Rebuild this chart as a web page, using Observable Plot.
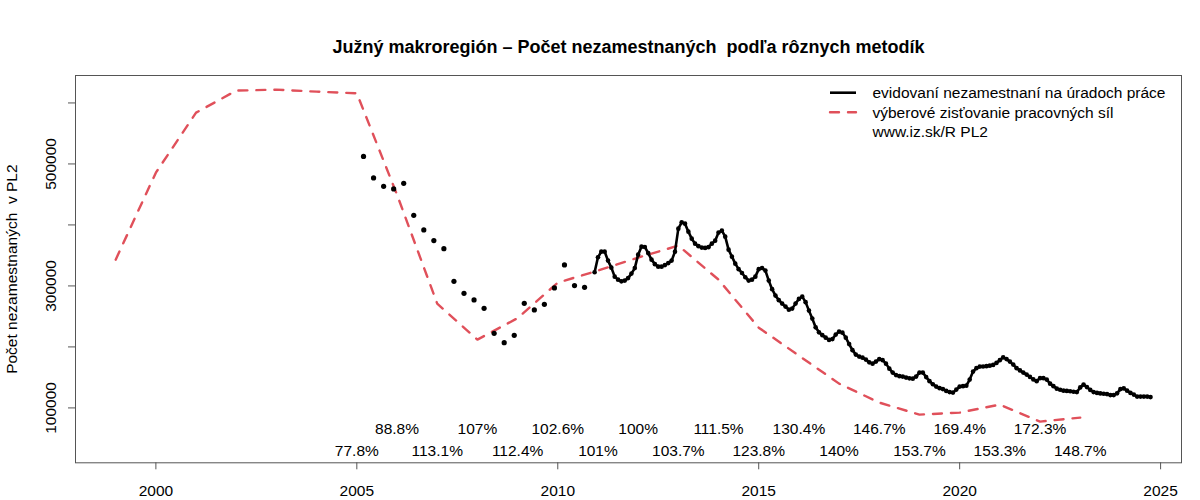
<!DOCTYPE html>
<html>
<head>
<meta charset="utf-8">
<script src="https://cdn.jsdelivr.net/npm/d3@7"></script>
<script src="https://cdn.jsdelivr.net/npm/@observablehq/plot@0.6"></script>
<style>
  html, body { margin: 0; padding: 0; background: #fff; }
  #chart svg { display: block; }
</style>
</head>
<body>
<div id="chart"></div>
<script>
// ---------- data ----------
const titleText = "Južný makroregión – Počet nezamestnaných  podľa rôznych metodík";
const yAxisTitle = "Počet nezamestnaných  v PL2";
const legendLabels = ["evidovaní nezamestnaní na úradoch práce", "výberové zisťovanie pracovných síl", "www.iz.sk/R PL2"];

// Výberové zisťovanie pracovných síl (annual)
const vzpsYears = [1999,2000,2001,2002,2003,2004,2005,2006,2007,2008,2009,2010,2011,2012,2013,2014,2015,2016,2017,2018,2019,2020,2021,2022,2023];
const vzpsValues = [343100,485700,584100,620200,621800,618500,615700,449700,271000,212000,247200,305400,325100,346400,366100,310300,231600,185700,139800,108700,89000,92300,105400,77500,84100];

// Evidovaní nezamestnaní – quarterly (2005 Q1 .. 2010 Q3, months 3,6,9,12)
const quarterlyStartYear = 2005;
const registeredQuarterly = [
  512400,477000,463300,459000,
  468200,415700,391800,374300,
  361100,307500,287900,277000,
  263300,222300,207000,219000,
  271500,260600,269800,296700,
  334400,300500,297700
];

// Evidovaní nezamestnaní – monthly (from 2010-12 to 2024-10)
const monthlyStart = {year: 2010, month: 12};
const registeredMonthly = [
  322300,
  346900,356200,356200,341500,330000,315200,310300,307500,308700,312800,320200,329200, // 2011
  351300,364400,363900,353800,343100,335700,331600,331600,334100,337400,341500,356200, // 2012
  393900,404200,402100,389000,377500,369300,365200,362800,362300,363600,369300,374200, // 2013
  387400,390600,380800,359500,348000,336500,327500,321300,314200,308700,310300,315200, // 2014
  327500,329500,325100,308700,294700,284100,276700,271000,266100,261100,262800,271000, // 2015
  278700,282400,273400,259500,246400,232100,223900,219300,215200,211500,212800,220200, // 2016
  225100,223400,215200,204600,194700,187400,184100,182400,179200,174700,172600,175900, // 2017
  180000,178300,172600,164400,157900,153800,152100,151300,149700,148500,148000,151300, // 2018
  157900,157900,150500,143900,138800,134900,132400,130800,127900,125900,125100,130000, // 2019
  134900,135700,136500,146400,159500,165200,167700,168000,168500,169300,170500,173800, // 2020
  178300,182900,180000,175900,171000,165200,161500,157900,154600,150800,146700,143900, // 2021
  148800,148800,146400,139800,135700,131600,129700,128300,127900,127200,126400,125900, // 2022
  133600,138200,134100,129500,125900,124600,123800,123300,122600,121000,121000,123900, // 2023
  130800,132000,128300,124600,121800,118500,118500,118500,118500,117700               // 2024
];

// ratio labels (registered / VZPS), 2005..2023
const ratioYears = [2005,2006,2007,2008,2009,2010,2011,2012,2013,2014,2015,2016,2017,2018,2019,2020,2021,2022,2023];
const ratioValues = [77.8,88.8,113.1,107,112.4,102.6,101,100,103.7,111.5,123.8,130.4,140,146.7,153.7,169.4,153.3,172.3,148.7];

const xTicks = [2000,2005,2010,2015,2020,2025];
const yTicks = [100000,200000,300000,400000,500000,600000];
const yLabelTicks = [100000,300000,500000];

// ---------- derived tables ----------
const vzps = vzpsYears.map((year, i) => ({x: year, y: vzpsValues[i]}));
const quarterly = registeredQuarterly.map((v, i) => {
  const year = quarterlyStartYear + Math.floor(i / 4);
  const month = (i % 4) * 3 + 3;
  return {x: year + (month - 1) / 12, y: v};
});
const monthly = registeredMonthly.map((v, i) => {
  const idx = (monthlyStart.month - 1) + i;
  const year = monthlyStart.year + Math.floor(idx / 12);
  const month = idx % 12;
  return {x: year + month / 12, y: v};
});
const ratios = ratioYears.map((year, i) => ({x: year, label: ratioValues[i] + "%", row: i % 2}));

// ---------- styles ----------
const RED = "#E0505A";
const FONT = "'Liberation Sans', Arial, Helvetica, sans-serif";
const FS = 15.5;
const ROW_Y = [30000, 65500]; // bottom row, top row
const DASH = "9 9";

const chart = Plot.plot({
  width: 1200,
  height: 500,
  marginLeft: 75,
  marginRight: 19,
  marginTop: 75,
  marginBottom: 37.7,
  style: {fontFamily: FONT, fontSize: FS + "px", background: "#fff", color: "#000"},
  x: {domain: [1998.0, 2025.52]},
  y: {domain: [10000, 645000]},
  marks: [
    Plot.frame({stroke: "#555", strokeWidth: 1}),
    Plot.axisX({ticks: xTicks, tickSize: 7, tickPadding: 15.5, tickFormat: d => String(d), label: null, stroke: "#555", fontSize: FS}),
    Plot.axisY({ticks: yTicks, tickSize: 7, tickFormat: () => "", label: null, stroke: "#555"}),
    Plot.text(yLabelTicks, {y: d => d, text: d => String(d), frameAnchor: "left", textAnchor: "middle", dx: -24, rotate: -90, fontSize: FS, fill: "#000"}),
    Plot.text([yAxisTitle], {text: d => d, frameAnchor: "left", textAnchor: "middle", dx: -63, rotate: -90, fontSize: FS, fill: "#000"}),
    Plot.text([titleText], {text: d => d, frameAnchor: "top", textAnchor: "middle", dy: -35, fontSize: 18, fontWeight: "bold", fill: "#000"}),
    Plot.line(vzps, {x: "x", y: "y", stroke: RED, strokeWidth: 2.4, strokeDasharray: DASH, strokeLinecap: "round"}),
    Plot.dot(quarterly, {x: "x", y: "y", r: 2.6, fill: "#000", stroke: "none"}),
    Plot.line(monthly, {x: "x", y: "y", stroke: "#000", strokeWidth: 2.6}),
    Plot.dot(monthly, {x: "x", y: "y", r: 2.3, fill: "#000", stroke: "none"}),
    Plot.text(ratios, {x: "x", y: d => ROW_Y[d.row === 0 ? 0 : 1], text: "label", fontSize: FS, fill: "#000"})
  ]
});

document.getElementById("chart").appendChild(chart);

// legend (top-right, inside the plot box)
const svg = d3.select(chart);
const lg = svg.append("g")
  .attr("font-family", FONT).attr("font-size", FS)
  .attr("text-anchor", "start");
lg.append("line").attr("x1", 830).attr("x2", 856).attr("y1", 92.7).attr("y2", 92.7)
  .attr("stroke", "#000").attr("stroke-width", 2.6);
lg.append("line").attr("x1", 830).attr("x2", 856).attr("y1", 112.3).attr("y2", 112.3)
  .attr("stroke", RED).attr("stroke-width", 2.4).attr("stroke-dasharray", DASH).attr("stroke-linecap", "round");
legendLabels.forEach((t, i) => {
  lg.append("text").attr("x", 872.5).attr("y", 92.7 + i * 19.6).attr("dy", "0.35em")
    .attr("text-anchor", "start").attr("fill", "#000").text(t);
});
</script>
</body>
</html>
